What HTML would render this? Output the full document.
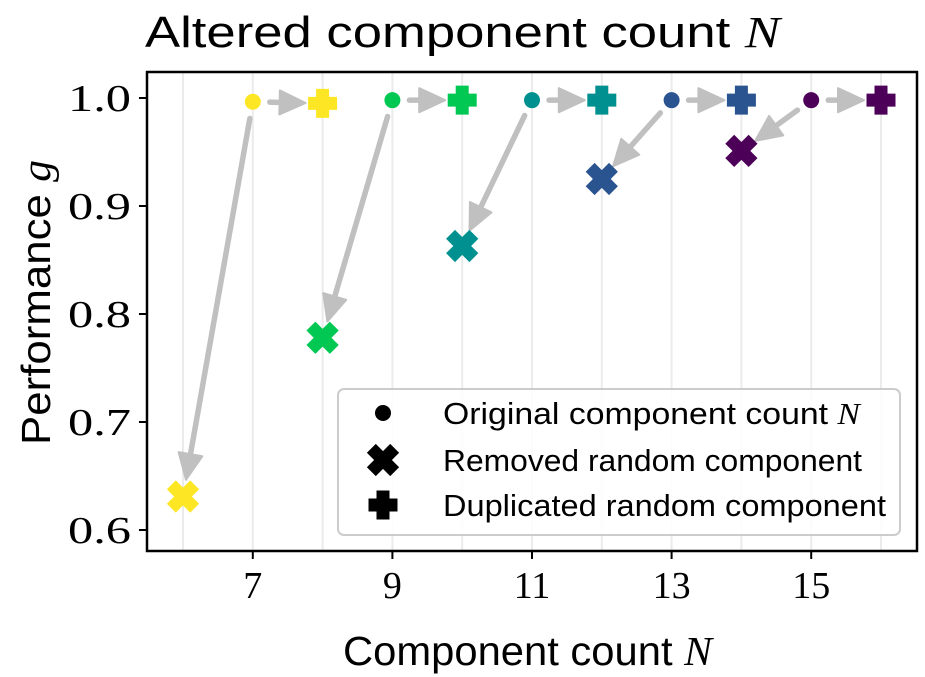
<!DOCTYPE html>
<html><head><meta charset="utf-8">
<style>
html,body{margin:0;padding:0;background:#fff;}
svg{display:block;font-family:"Liberation Sans",sans-serif;}
.serif{font-family:"Liberation Serif",serif;}
</style></head>
<body>
<svg id="chart" width="925" height="677" viewBox="0 0 925 677" xmlns="http://www.w3.org/2000/svg">
  <defs>
    <path id="plusShape" d="M-6.5,-14.5H6.5V-6.5H14.5V6.5H6.5V14.5H-6.5V6.5H-14.5V-6.5H-6.5Z"/>
    <path id="xShape" transform="rotate(45)" d="M-6.3,-16.5H6.3V-6.3H16.5V6.3H6.3V16.5H-6.3V6.3H-16.5V-6.3H-6.3Z"/>
  </defs>
  <text x="145" y="47" font-size="44" textLength="635" lengthAdjust="spacingAndGlyphs">Altered component count <tspan class="serif" font-style="italic">N</tspan></text>
  <g id="grid"></g>
  <g id="arrows"></g>
  <g id="marks"></g>
  <rect x="147" y="72" width="770" height="479" fill="none" stroke="#000" stroke-width="2.5"/>
  <g id="xticks"></g>
  <g id="yticks"></g>
  <text x="343" y="665" font-size="41" textLength="369" lengthAdjust="spacingAndGlyphs">Component count <tspan class="serif" font-style="italic">N</tspan></text>
  <text transform="translate(50,445) rotate(-90)" font-size="41" textLength="285" lengthAdjust="spacingAndGlyphs">Performance <tspan class="serif" font-style="italic">g</tspan></text>
  <g>
    <rect x="338" y="389" width="562" height="146" rx="6" fill="#fff" fill-opacity="0.85" stroke="#ccc" stroke-width="2"/>
    <circle cx="383" cy="413" r="8" fill="#000"/>
    <text x="443" y="424" font-size="31" textLength="417" lengthAdjust="spacingAndGlyphs">Original component count <tspan class="serif" font-style="italic">N</tspan></text>
    <g transform="translate(383,460)"><use href="#xShape" fill="#000"/></g>
    <text x="443" y="471" font-size="31" textLength="419" lengthAdjust="spacingAndGlyphs">Removed random component</text>
    <g transform="translate(383,505)"><use href="#plusShape" fill="#000"/></g>
    <text x="443" y="516" font-size="31" textLength="443" lengthAdjust="spacingAndGlyphs">Duplicated random component</text>
  </g>
</svg>
<script>
const origN = [7, 9, 11, 13, 15];
const origG = [0.9965, 0.998, 0.998, 0.998, 0.998];
const removedG = [0.631, 0.778, 0.863, 0.925, 0.951];
const dupG = [0.995, 0.998, 0.998, 0.998, 0.998];
const colors = ["#fde725", "#00c853", "#009090", "#2a5490", "#4d0058"];
const xTicks = [7, 9, 11, 13, 15];
const yTicks = [0.6, 0.7, 0.8, 0.9, 1.0];
const gridN = [6, 7, 8, 9, 10, 11, 12, 13, 14, 15, 16];

const NS = "http://www.w3.org/2000/svg";
const xs = v => 183 + (v - 6) * 69.8;
const ys = v => 98 + (1.0 - v) * 1080;
function mk(tag, attrs, parent) {
  const e = document.createElementNS(NS, tag);
  for (const k in attrs) e.setAttribute(k, attrs[k]);
  parent.appendChild(e);
  return e;
}
const grid = document.getElementById('grid');
gridN.forEach(n => {
  const l = mk('line', {x1: xs(n), x2: xs(n), y1: 72, y2: 551, stroke: '#ebebeb', 'stroke-width': 2}, grid);
  
  
});
const xt = document.getElementById('xticks');
xTicks.forEach(t => {
  const l = mk('line', {x1: xs(t), x2: xs(t), y1: 551, y2: 559, stroke: '#000', 'stroke-width': 2}, xt);
  
  
  const tx = mk('text', {x: xs(t), y: 598, 'font-size': 38, 'text-anchor': 'middle', class: 'serif'}, xt);
  
  
  tx.textContent = t;
});
const yt = document.getElementById('yticks');
yTicks.forEach(t => {
  const l = mk('line', {x1: 139, x2: 147, y1: ys(t), y2: ys(t), stroke: '#000', 'stroke-width': 2}, yt);
  
  
  const tx = mk('text', {x: 68, y: ys(t) + 13, 'font-size': 38, class: 'serif', textLength: 63, lengthAdjust: 'spacingAndGlyphs'}, yt);
  
  
  tx.textContent = t.toFixed(1);
});
const arrows = document.getElementById('arrows');
function arrow(x1, y1, x2, y2) {
  const dx = x2 - x1, dy = y2 - y1, L = Math.hypot(dx, dy);
  const ux = dx / L, uy = dy / L;
  const sx = x1 + ux * 17, sy = y1 + uy * 17;
  const ex = x2 - ux * 17, ey = y2 - uy * 17;
  const bx = ex - ux * 26, by = ey - uy * 26;
  const l = mk('line', {x1: sx, y1: sy, x2: bx + ux * 2, y2: by + uy * 2, stroke: '#c0c0c0', 'stroke-width': 5.5, 'stroke-linecap': 'round'}, arrows);
  
  
  const px = -uy * 12, py = ux * 12;
  const h = mk('polygon', {points: `${ex},${ey} ${bx + px},${by + py} ${bx - px},${by - py}`, fill: '#c0c0c0', stroke: '#c0c0c0', 'stroke-width': 2, 'stroke-linejoin': 'round'}, arrows);
  
  
}
const marks = document.getElementById('marks');
origN.forEach((n, i) => {
  arrow(xs(n), ys(origG[i]), xs(n + 1), ys(dupG[i]));
  arrow(xs(n), ys(origG[i]), xs(n - 1), ys(removedG[i]));
  const c = mk('circle', {cx: xs(n), cy: ys(origG[i]), r: 8, fill: colors[i]}, marks);
  
  
  const x = mk('path', {transform: `translate(${xs(n - 1)},${ys(removedG[i])}) rotate(45)`, d: 'M-6.3,-16.5H6.3V-6.3H16.5V6.3H6.3V16.5H-6.3V6.3H-16.5V-6.3H-6.3Z', fill: colors[i]}, marks);
  
  
  const p = mk('path', {transform: `translate(${xs(n + 1)},${ys(dupG[i])})`, d: 'M-6.5,-14.5H6.5V-6.5H14.5V6.5H6.5V14.5H-6.5V6.5H-14.5V-6.5H-6.5Z', fill: colors[i]}, marks);
  
  
});
</script>
</body></html>
